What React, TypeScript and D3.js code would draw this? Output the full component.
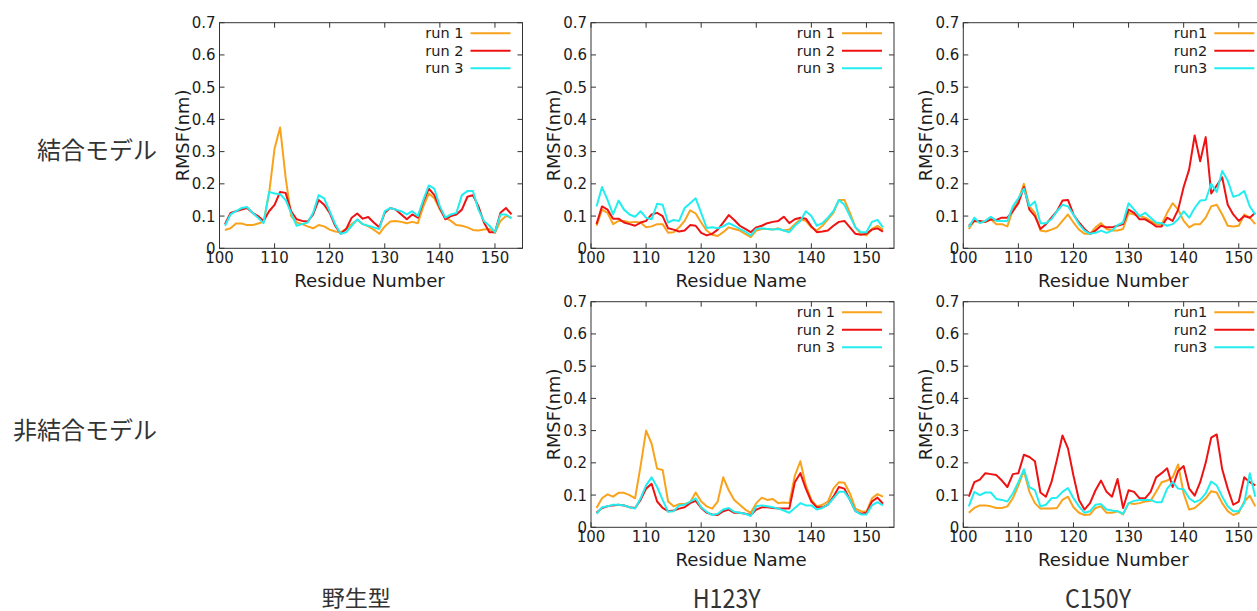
import React from "react";
import * as d3 from "d3";

// Residue numbers 101..153
const residues = d3.range(101, 154);

const xTicks = [100, 110, 120, 130, 140, 150];
const yTicks = [0, 0.1, 0.2, 0.3, 0.4, 0.5, 0.6, 0.7];

// Wild type, bound model
const wtRun1 = [0.057,0.062,0.077,0.077,0.072,0.072,0.077,0.082,0.17,0.31,0.375,0.22,0.10,0.08,0.075,0.068,0.062,0.072,0.068,0.058,0.052,0.05,0.06,0.075,0.088,0.075,0.068,0.058,0.045,0.068,0.083,0.085,0.082,0.078,0.082,0.078,0.13,0.17,0.155,0.12,0.095,0.085,0.072,0.07,0.065,0.057,0.055,0.058,0.06,0.048,0.085,0.1,0.095];
const wtRun2 = [0.075,0.11,0.115,0.12,0.125,0.11,0.10,0.085,0.115,0.135,0.175,0.172,0.115,0.09,0.085,0.083,0.105,0.15,0.135,0.11,0.07,0.045,0.06,0.095,0.108,0.092,0.097,0.08,0.065,0.11,0.125,0.12,0.105,0.09,0.105,0.095,0.145,0.185,0.165,0.125,0.09,0.1,0.105,0.12,0.16,0.165,0.13,0.08,0.05,0.05,0.11,0.125,0.105];
const wtRun3 = [0.07,0.105,0.115,0.125,0.128,0.11,0.095,0.078,0.175,0.17,0.168,0.15,0.11,0.07,0.075,0.08,0.11,0.165,0.155,0.115,0.075,0.045,0.05,0.07,0.09,0.075,0.07,0.065,0.06,0.115,0.125,0.12,0.115,0.105,0.115,0.1,0.15,0.195,0.185,0.13,0.095,0.105,0.11,0.165,0.178,0.178,0.12,0.085,0.07,0.05,0.105,0.105,0.093];

// H123Y, bound model
const h123BoundRun1 = [0.07,0.12,0.11,0.075,0.085,0.085,0.08,0.082,0.08,0.065,0.068,0.075,0.075,0.048,0.05,0.065,0.085,0.118,0.108,0.08,0.055,0.042,0.038,0.05,0.065,0.06,0.055,0.045,0.035,0.055,0.06,0.06,0.058,0.062,0.055,0.058,0.075,0.09,0.085,0.065,0.055,0.07,0.09,0.11,0.15,0.15,0.11,0.065,0.045,0.04,0.06,0.07,0.058];
const h123BoundRun2 = [0.075,0.13,0.12,0.092,0.092,0.08,0.075,0.07,0.08,0.085,0.105,0.11,0.1,0.062,0.058,0.052,0.055,0.072,0.07,0.048,0.04,0.045,0.058,0.08,0.103,0.088,0.07,0.06,0.05,0.065,0.07,0.078,0.082,0.085,0.098,0.078,0.09,0.095,0.092,0.068,0.05,0.052,0.055,0.07,0.082,0.085,0.065,0.045,0.042,0.045,0.058,0.062,0.052];
const h123BoundRun3 = [0.13,0.19,0.15,0.105,0.148,0.12,0.105,0.098,0.115,0.095,0.09,0.138,0.135,0.08,0.088,0.085,0.125,0.14,0.155,0.11,0.063,0.065,0.062,0.068,0.078,0.07,0.06,0.052,0.04,0.06,0.062,0.06,0.058,0.06,0.055,0.05,0.07,0.085,0.115,0.1,0.07,0.078,0.095,0.115,0.15,0.135,0.1,0.065,0.05,0.05,0.082,0.088,0.065];

// C150Y, bound model
const c150BoundRun1 = [0.06,0.085,0.08,0.082,0.09,0.075,0.075,0.068,0.12,0.15,0.2,0.13,0.11,0.055,0.052,0.058,0.065,0.085,0.105,0.08,0.058,0.045,0.045,0.065,0.078,0.06,0.055,0.055,0.06,0.11,0.105,0.1,0.095,0.085,0.075,0.075,0.11,0.14,0.12,0.085,0.065,0.075,0.075,0.095,0.13,0.135,0.105,0.07,0.068,0.07,0.105,0.095,0.075];
const c150BoundRun2 = [0.07,0.085,0.085,0.082,0.09,0.088,0.095,0.095,0.115,0.14,0.19,0.12,0.1,0.06,0.075,0.095,0.115,0.148,0.15,0.105,0.08,0.06,0.045,0.055,0.07,0.065,0.065,0.07,0.075,0.12,0.11,0.09,0.09,0.08,0.068,0.068,0.095,0.085,0.12,0.19,0.245,0.35,0.27,0.345,0.17,0.195,0.22,0.135,0.105,0.085,0.1,0.095,0.11];
const c150BoundRun3 = [0.065,0.095,0.078,0.085,0.098,0.085,0.085,0.085,0.13,0.155,0.185,0.13,0.145,0.078,0.078,0.09,0.115,0.135,0.13,0.105,0.075,0.055,0.045,0.048,0.055,0.048,0.055,0.072,0.08,0.14,0.12,0.1,0.11,0.095,0.08,0.078,0.07,0.075,0.09,0.115,0.095,0.125,0.148,0.15,0.2,0.175,0.24,0.21,0.16,0.165,0.178,0.13,0.105];

// H123Y, unbound model
const h123FreeRun1 = [0.06,0.09,0.102,0.095,0.107,0.107,0.1,0.09,0.19,0.30,0.26,0.182,0.178,0.08,0.065,0.072,0.072,0.078,0.108,0.08,0.065,0.058,0.08,0.155,0.115,0.085,0.07,0.055,0.045,0.075,0.092,0.085,0.088,0.075,0.077,0.075,0.16,0.205,0.13,0.085,0.065,0.07,0.08,0.12,0.14,0.138,0.105,0.058,0.05,0.048,0.09,0.103,0.095];
const h123FreeRun2 = [0.045,0.06,0.065,0.068,0.07,0.068,0.062,0.06,0.085,0.12,0.135,0.08,0.06,0.05,0.052,0.058,0.062,0.075,0.082,0.06,0.045,0.04,0.038,0.05,0.055,0.045,0.045,0.042,0.038,0.055,0.062,0.062,0.06,0.058,0.058,0.058,0.14,0.168,0.12,0.08,0.062,0.062,0.07,0.095,0.125,0.12,0.085,0.05,0.042,0.045,0.08,0.092,0.073];
const h123FreeRun3 = [0.042,0.062,0.065,0.07,0.07,0.068,0.062,0.058,0.09,0.13,0.155,0.125,0.085,0.048,0.05,0.068,0.07,0.08,0.09,0.062,0.048,0.038,0.042,0.055,0.06,0.048,0.045,0.042,0.035,0.065,0.068,0.065,0.062,0.058,0.052,0.045,0.06,0.075,0.068,0.068,0.055,0.06,0.07,0.09,0.11,0.11,0.085,0.05,0.04,0.04,0.068,0.078,0.068];

// C150Y, unbound model
const c150FreeRun1 = [0.045,0.06,0.068,0.068,0.065,0.06,0.06,0.065,0.09,0.13,0.175,0.11,0.075,0.058,0.058,0.058,0.06,0.085,0.095,0.062,0.045,0.038,0.04,0.06,0.065,0.045,0.045,0.05,0.04,0.075,0.072,0.075,0.08,0.082,0.11,0.14,0.145,0.155,0.195,0.105,0.055,0.06,0.075,0.09,0.112,0.108,0.075,0.05,0.038,0.045,0.08,0.098,0.065];
const c150FreeRun2 = [0.095,0.14,0.148,0.168,0.165,0.162,0.145,0.125,0.165,0.168,0.225,0.218,0.205,0.108,0.095,0.14,0.21,0.285,0.245,0.16,0.085,0.055,0.075,0.115,0.145,0.11,0.095,0.15,0.06,0.115,0.11,0.09,0.09,0.11,0.155,0.168,0.183,0.125,0.175,0.19,0.12,0.098,0.14,0.2,0.278,0.288,0.18,0.12,0.07,0.08,0.155,0.14,0.13];
const c150FreeRun3 = [0.065,0.11,0.1,0.108,0.108,0.088,0.085,0.08,0.105,0.14,0.18,0.125,0.115,0.065,0.07,0.09,0.092,0.11,0.122,0.09,0.065,0.045,0.05,0.07,0.072,0.055,0.052,0.05,0.042,0.075,0.082,0.085,0.085,0.085,0.078,0.078,0.12,0.14,0.12,0.118,0.09,0.078,0.085,0.105,0.142,0.13,0.095,0.065,0.05,0.05,0.075,0.168,0.095];

const legendSpaced = ["run 1", "run 2", "run 3"];
const legendTight = ["run1", "run2", "run3"];
const runColors = ["#f9a21b", "#ee1212", "#22eef0"];

const rowLabels = ["結合モデル", "非結合モデル"];
const colLabels = ["野生型", "H123Y", "C150Y"];

const W = 1257;
const H = 611;
const PW = 303;
const TXT = "#1c1c1c";
const FONT = "'DejaVu Sans', sans-serif";

type PanelProps = {
  left: number;
  top: number;
  bottom: number;
  runs: number[][];
  legend: string[];
  xTitle: string;
};

function Panel({ left, top, bottom, runs, legend, xTitle }: PanelProps) {
  const x = d3.scaleLinear().domain([100, 155]).range([left, left + PW]);
  const y = d3.scaleLinear().domain([0, 0.7]).range([bottom, top]);
  const line = d3
    .line<number>()
    .x((_, i) => x(residues[i]))
    .y((d) => y(d));
  const right = left + PW;
  const tl = 5;
  const fmt = (v: number) => (v === 0 ? "0" : d3.format(".1f")(v));
  const clipId = `clip-${Math.round(left)}-${Math.round(top)}`;
  return (
    <g>
      <defs>
        <clipPath id={clipId}>
          <rect x={left} y={top} width={PW} height={bottom - top} />
        </clipPath>
      </defs>
      {xTicks.map((t) => (
        <g key={"xt" + t}>
          <line x1={x(t)} x2={x(t)} y1={bottom} y2={bottom - tl} stroke="#333" strokeWidth={1} />
          <line x1={x(t)} x2={x(t)} y1={top} y2={top + tl} stroke="#333" strokeWidth={1} />
          <text x={x(t)} y={bottom + 15} textAnchor="middle" fontSize={15} fill={TXT} fontFamily={FONT}>
            {t}
          </text>
        </g>
      ))}
      {yTicks.map((t) => (
        <g key={"yt" + t}>
          <line x1={left} x2={left + tl} y1={y(t)} y2={y(t)} stroke="#333" strokeWidth={1} />
          <line x1={right} x2={right - tl} y1={y(t)} y2={y(t)} stroke="#333" strokeWidth={1} />
          <text x={left - 4} y={y(t) + 5.5} textAnchor="end" fontSize={15} fill={TXT} fontFamily={FONT}>
            {fmt(t)}
          </text>
        </g>
      ))}
      <g clipPath={`url(#${clipId})`}>
        {runs.map((r, i) => (
          <path key={i} d={line(r) || ""} fill="none" stroke={runColors[i]} strokeWidth={2} strokeLinejoin="round" />
        ))}
      </g>
      {legend.map((lab, i) => {
        const ly = top + 10.6 + i * 17.5;
        return (
          <g key={lab}>
            <text x={right - 59} y={ly + 5} textAnchor="end" fontSize={14.5} fill={TXT} fontFamily={FONT}>
              {lab}
            </text>
            <line x1={right - 52} x2={right - 12} y1={ly} y2={ly} stroke={runColors[i]} strokeWidth={2} />
          </g>
        );
      })}
      <rect x={left} y={top} width={PW} height={bottom - top} fill="none" stroke="#333" strokeWidth={1} />
      <text x={left + 150} y={bottom + 38.5} textAnchor="middle" fontSize={18.2} fill={TXT} fontFamily={FONT}>
        {xTitle}
      </text>
      <text
        transform={`translate(${left - 31},${(top + bottom) / 2}) rotate(-90)`}
        textAnchor="middle"
        fontSize={17.8}
        fill={TXT}
        fontFamily={FONT}
      >
        RMSF(nm)
      </text>
    </g>
  );
}

export default function App() {
  const jp = "'Noto Sans CJK JP', sans-serif";
  return (
    <svg
      width={W}
      height={H}
      style={{ position: "absolute", left: 0, top: 0, background: "#fff" }}
    >
      <rect x={0} y={0} width={W} height={H} fill="#fff" />
      <Panel left={219.5} top={22.7} bottom={248.3} runs={[wtRun1, wtRun2, wtRun3]} legend={legendSpaced} xTitle="Residue Number" />
      <Panel left={591} top={22.7} bottom={248.3} runs={[h123BoundRun1, h123BoundRun2, h123BoundRun3]} legend={legendSpaced} xTitle="Residue Name" />
      <Panel left={963.3} top={22.7} bottom={248.3} runs={[c150BoundRun1, c150BoundRun2, c150BoundRun3]} legend={legendTight} xTitle="Residue Number" />
      <Panel left={591} top={301.7} bottom={527.3} runs={[h123FreeRun1, h123FreeRun2, h123FreeRun3]} legend={legendSpaced} xTitle="Residue Name" />
      <Panel left={963.3} top={301.7} bottom={527.3} runs={[c150FreeRun1, c150FreeRun2, c150FreeRun3]} legend={legendTight} xTitle="Residue Number" />

      <text x={157} y={159} textAnchor="end" fontSize={24} fill="#333" fontFamily={jp}>
        {rowLabels[0]}
      </text>
      <text x={157} y={439} textAnchor="end" fontSize={24} fill="#333" fontFamily={jp}>
        {rowLabels[1]}
      </text>

      <text x={321.7} y={606} fontSize={22} fill="#333" fontFamily={jp} textLength={69} lengthAdjust="spacingAndGlyphs">
        {colLabels[0]}
      </text>
      <text x={692.7} y={608} fontSize={26} fill="#333" fontFamily={jp} textLength={68} lengthAdjust="spacingAndGlyphs">
        {colLabels[1]}
      </text>
      <text x={1065} y={608} fontSize={26} fill="#333" fontFamily={jp} textLength={66} lengthAdjust="spacingAndGlyphs">
        {colLabels[2]}
      </text>
    </svg>
  );
}
